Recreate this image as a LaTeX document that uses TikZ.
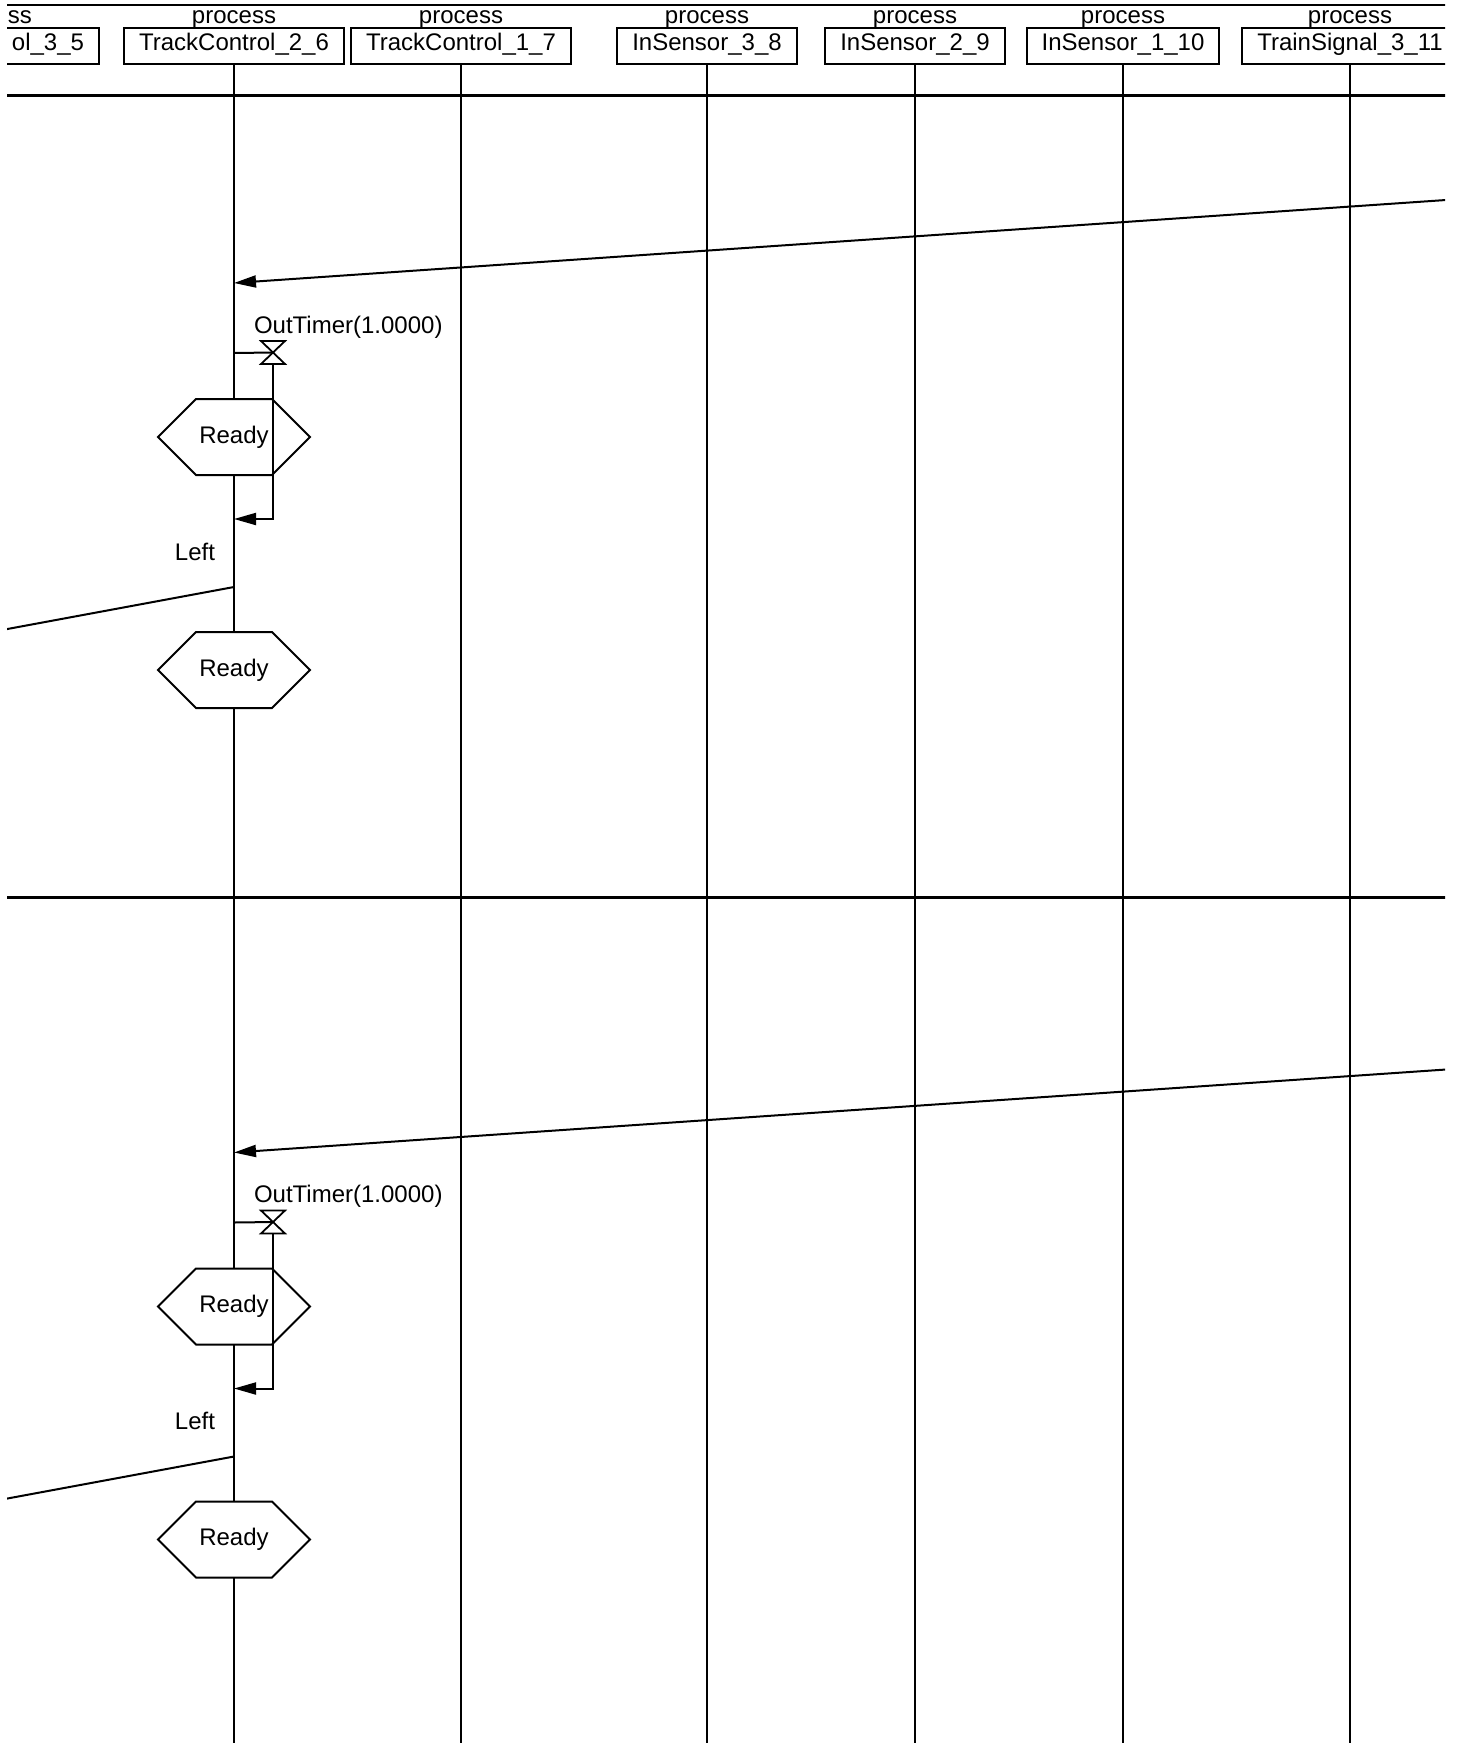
\documentclass[tikz,border=0pt]{standalone}
\usepackage{fontspec}
\setmainfont{Liberation Sans}
\usetikzlibrary{arrows.meta}
\begin{document}
\begin{tikzpicture}[x=1pt,y=-1pt,line width=2pt,
  every node/.style={font=\fontsize{24}{28}\selectfont,inner sep=0pt},
  procbox/.style={draw,line width=2pt,inner xsep=15pt,inner ysep=0pt,text height=22pt,text depth=14pt,anchor=base},
  proclabel/.style={anchor=base},
  lifeline/.style={line width=2pt},
  sepline/.style={line width=3pt},
  msg/.style={line width=2pt,-{Triangle[length=22pt,width=12pt]}},
  hexa/.pic={\draw[fill=white,line width=2pt] (-76,0) -- (-38,-38) -- (38,-38) -- (76,0) -- (38,38) -- (-38,38) -- cycle;
             \node (-t) at (0,0) {Ready};},
  timer/.pic={\draw[line width=1.8pt] (-12,-11.5) -- (12,-11.5) -- (-12,11.5) -- (12,11.5) -- cycle;}
]
\useasboundingbox (0,0) rectangle (1463,1743);
\begin{scope}
\clip (7,0) rectangle (1445,1745);
% header
\coordinate (topL) at (0,5);
\coordinate (topR) at (1460,5);
\draw (topL) -- (topR);
\node[anchor=base east] (l5) at (33,23) {ss};
\node[procbox,anchor=base east] (p5) at (100,50) {ol\_3\_5};
\node[proclabel] (l6) at (234,23) {process};
\node[procbox] (p6) at (234,50) {TrackControl\_2\_6};
\node[proclabel] (l7) at (461,23) {process};
\node[procbox] (p7) at (461,50) {TrackControl\_1\_7};
\node[proclabel] (l8) at (707,23) {process};
\node[procbox] (p8) at (707,50) {InSensor\_3\_8};
\node[proclabel] (l9) at (915,23) {process};
\node[procbox] (p9) at (915,50) {InSensor\_2\_9};
\node[proclabel] (l10) at (1123,23) {process};
\node[procbox] (p10) at (1123,50) {InSensor\_1\_10};
\node[proclabel] (l11) at (1350,23) {process};
\node[procbox] (p11) at (1350,50) {TrainSignal\_3\_11};
% lifelines
\coordinate (bot) at (0,1750);
\foreach \p in {p6,p7,p8,p9,p10,p11}{
  \draw[lifeline] (\p.south) -- (\p.south |- bot);
}
% separators
\coordinate (s1L) at (0,95);
\coordinate (s1R) at (1460,95);
\draw[sepline] (s1L) -- (s1R);
\coordinate (s2L) at (0,897);
\coordinate (s2R) at (1460,897);
\draw[sepline] (s2L) -- (s2R);
% two repeated sections
\foreach \i/\o in {1/0,2/869.5}{
  \coordinate (in\i) at (1446,{200+\o});
  \coordinate (rc\i) at (234,{283+\o});
  \draw[msg] (in\i) -- (rc\i);
  \node[anchor=base west] (tl\i) at (253,{333+\o}) {OutTimer(1.0000)};
  \coordinate (ts\i) at (234,{353+\o});
  \coordinate (tm\i) at (273,{352.5+\o});
  \draw (ts\i) -- (tm\i);
  \pic at (tm\i) {timer};
  \pic (ha\i) at (234,{437+\o}) {hexa};
  \coordinate (tb\i) at (273,{364+\o});
  \coordinate (tc\i) at (273,{519+\o});
  \coordinate (tr\i) at (234,{519+\o});
  \draw[msg] (tb\i) -- (tc\i) -- (tr\i);
  \node[anchor=base east] (lf\i) at (216,{560+\o}) {Left};
  \coordinate (ls\i) at (234,{587+\o});
  \coordinate (le\i) at (2,{630+\o});
  \draw (ls\i) -- (le\i);
  \pic (hb\i) at (234,{670+\o}) {hexa};
}
\end{scope}
\end{tikzpicture}
\end{document}
